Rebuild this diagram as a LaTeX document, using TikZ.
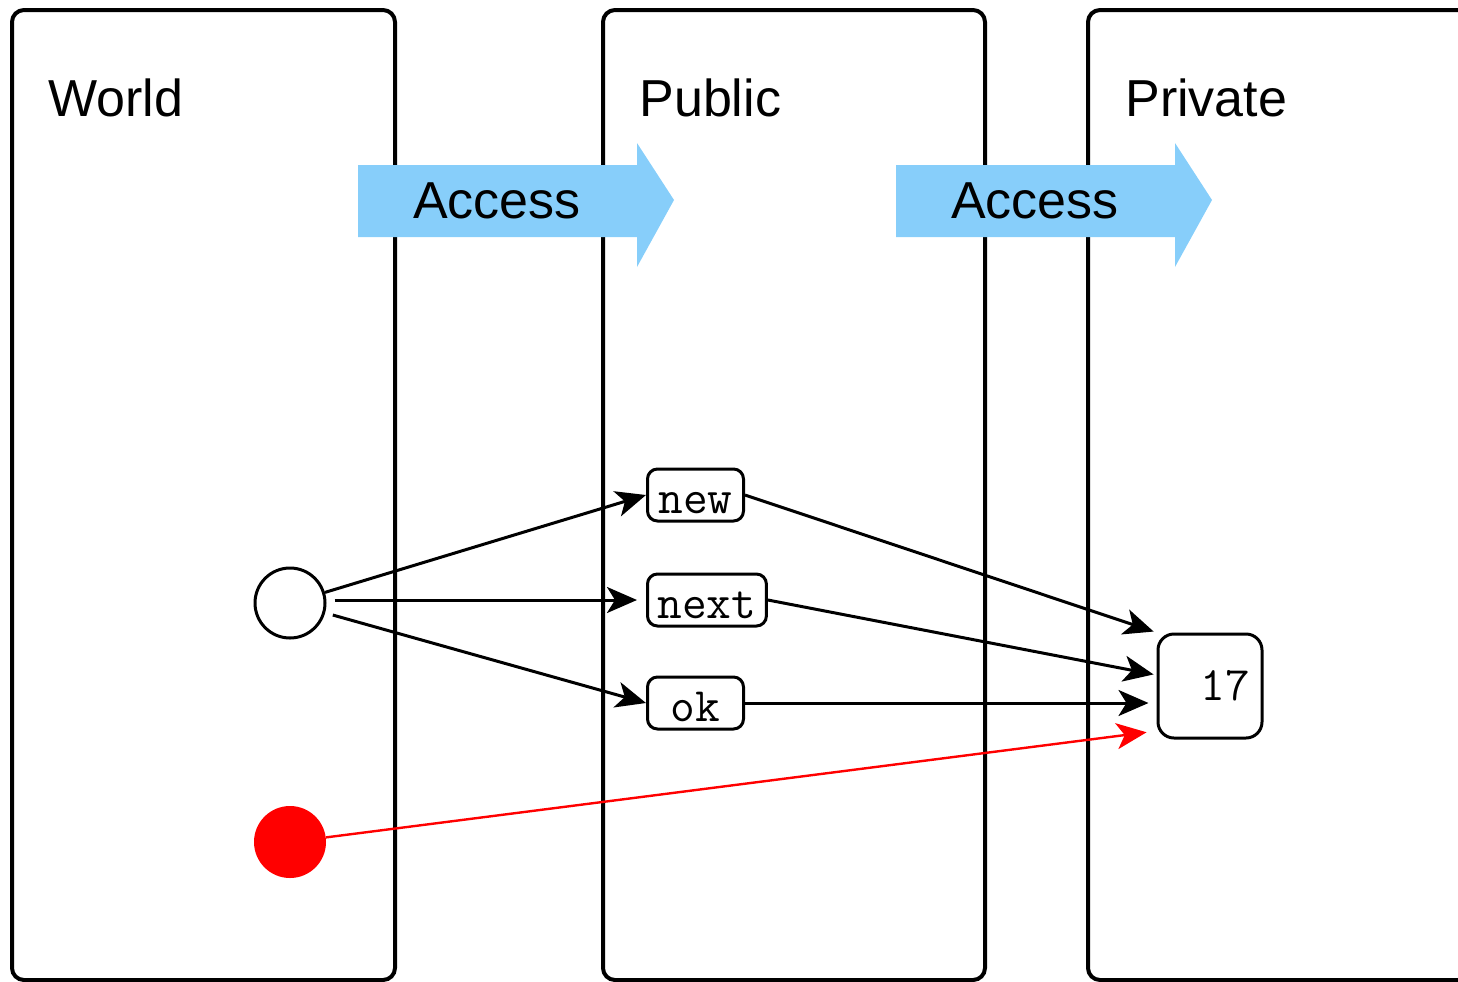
\documentclass[tikz,border=0pt]{standalone}
\usepackage{fontspec}
\setmainfont{Liberation Sans}
\usetikzlibrary{arrows.meta}

\definecolor{accessblue}{HTML}{87CEFA}

\tikzset{
    panel/.style={line width=2pt, rounded corners=6pt},
    title/.style={anchor=base west, inner sep=0pt, font=\fontsize{26}{30}\selectfont},
    method/.style={draw, line width=1.5pt, rounded corners=5pt, inner xsep=5pt,
        minimum width=48pt, minimum height=26pt, text height=18pt, text depth=0pt,
        anchor=west, font=\fontsize{24}{28}\ttfamily},
    call/.style={line width=1.5pt, -{Stealth[length=15pt, width=13pt, inset=4pt]}},
}

\begin{document}
\begin{tikzpicture}[x=0.5pt, y=-0.5pt]
    \useasboundingbox (0,0) rectangle (1458,981);
    \clip (0,0) rectangle (1458,981);

    % the three scopes
    \draw[panel] (12,10) rectangle (395,980);
    \draw[panel] (603,10) rectangle (985,980);
    \draw[panel] (1088,10) rectangle (1470,980);
    \node[title] (world) at (48,116) {World};
    \node[title] (public) at (639,116) {Public};
    \node[title] (private) at (1125,116) {Private};

    % access arrows between scopes
    \foreach \x/\name in {358/accA, 896/accB} {
        \fill[accessblue] (\x,165) -- ++(279,0) -- ++(0,-22) -- ++(37,57)
            -- ++(-37,67) -- ++(0,-30) -- ++(-279,0) -- cycle;
        \node[font=\fontsize{26}{30}\selectfont] (\name) at (\x+139,201) {Access};
    }

    % objects
    \node[circle, draw, line width=1.5pt, minimum size=35pt, inner sep=0pt] (obj) at (290,603) {};
    \node[circle, fill=red, minimum size=36pt, inner sep=0pt] (bad) at (290,842) {};

    % public methods
    \node[method] (new) at (646,495) {new};
    \node[method] (next) at (646,600) {next};
    \node[method] (ok) at (646,703) {ok};

    % private value
    \node[draw, line width=1.5pt, rounded corners=8pt, minimum height=52pt,
        text width=40pt, inner xsep=6pt, align=right,
        font=\fontsize{24}{28}\ttfamily] (val) at (1210,686) {17};

    % calls
    \draw[call] (obj) -- (new.west);
    \draw[call, shorten <=4pt, shorten >=4.5pt] (obj.east |- next.west) -- (next.west);
    \draw[call, shorten <=4pt] (obj) -- (ok.west);

    \draw[call, shorten >=1.5pt] (new.east) -- (val.north west);
    \draw[call, shorten >=1.5pt] (next.east) -- ([yshift=5.5pt]val.west);
    \draw[call, shorten >=4pt] (ok.east) -- (ok.east -| val.west);
    \draw[call, red, line width=1.2pt, shorten >=5pt] (bad) -- ([yshift=-22.5pt]val.west);
\end{tikzpicture}
\end{document}
